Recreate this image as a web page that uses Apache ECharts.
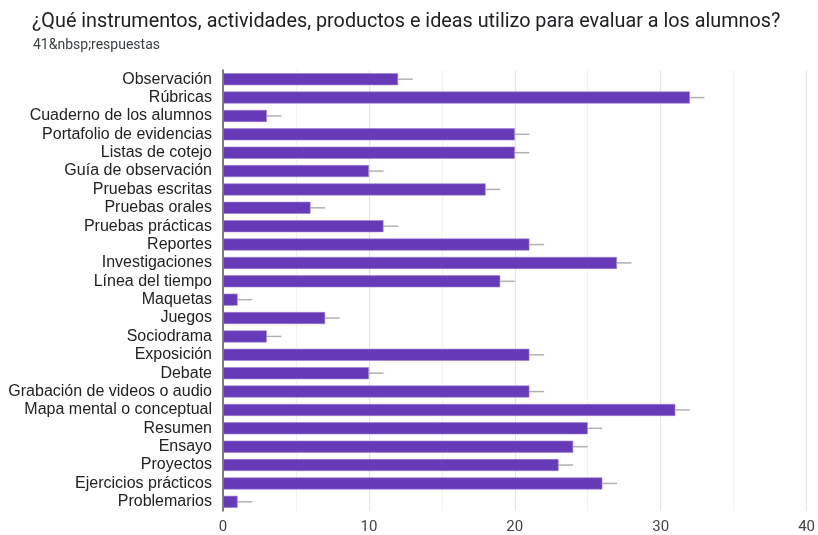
<!DOCTYPE html>
<html>
<head>
<meta charset="utf-8">
<script src="https://cdn.jsdelivr.net/npm/echarts@6/dist/echarts.min.js"></script>
<style>
  html, body { margin: 0; padding: 0; background: #ffffff; }
  #chart { width: 818px; height: 535px; }
</style>
</head>
<body>
<div id="chart"></div>
<script>
// Survey answers: how many teachers use each evaluation instrument
const categories = [
  'Observación', 'Rúbricas', 'Cuaderno de los alumnos', 'Portafolio de evidencias',
  'Listas de cotejo', 'Guía de observación', 'Pruebas escritas', 'Pruebas orales',
  'Pruebas prácticas', 'Reportes', 'Investigaciones', 'Línea del tiempo',
  'Maquetas', 'Juegos', 'Sociodrama', 'Exposición', 'Debate',
  'Grabación de videos o audio', 'Mapa mental o conceptual', 'Resumen',
  'Ensayo', 'Proyectos', 'Ejercicios prácticos', 'Problemarios'
];
const counts = [12, 32, 3, 20, 20, 10, 18, 6, 11, 21, 27, 19, 1, 7, 3, 21, 10, 21, 31, 25, 24, 23, 26, 1];
const xTicks = [0, 10, 20, 30, 40];
const whiskerLength = 1;

const chart = echarts.init(document.getElementById('chart'), null, { renderer: 'canvas' });

chart.setOption({
  backgroundColor: '#ffffff',
  animation: false,
  title: [
    {
      text: '¿Qué instrumentos, actividades, productos e ideas utilizo para evaluar a los alumnos?',
      left: 27, top: 7,
      textStyle: { fontFamily: 'Roboto', fontSize: 19.8, fontWeight: 'normal', color: '#202124' }
    },
    {
      text: '41&nbsp;respuestas',
      left: 28, top: 33,
      textStyle: { fontFamily: 'Roboto', fontSize: 14, fontWeight: 'normal', color: '#3c4043' }
    }
  ],
  grid: { left: 223, right: 10, top: 70, bottom: 21, containLabel: false },
  xAxis: {
    type: 'value',
    min: xTicks[0],
    max: xTicks[xTicks.length - 1],
    interval: xTicks[1] - xTicks[0],
    axisLine: { show: false },
    axisTick: { show: false },
    axisLabel: { fontFamily: 'Roboto', fontSize: 15, color: '#444', margin: 9 },
    splitLine: { show: true, lineStyle: { color: '#e4e4e4', width: 1 } },
    minorTick: { show: false, splitNumber: 2 },
    minorSplitLine: { show: true, lineStyle: { color: '#f2f2f2', width: 1 } }
  },
  yAxis: {
    type: 'category',
    data: categories,
    inverse: true,
    axisLine: { show: true, lineStyle: { color: '#555', width: 1.5 } },
    axisTick: { show: false },
    axisLabel: {
      interval: 0,
      fontFamily: '"Liberation Sans", Arial, sans-serif',
      fontSize: 16,
      color: '#222',
      margin: 11
    },
    splitLine: { show: false }
  },
  series: [
    {
      type: 'bar',
      data: counts,
      barWidth: 12,
      itemStyle: { color: '#673ab7', borderColor: '#9c80d4', borderWidth: 0.6 },
      z: 3
    },
    {
      type: 'custom',
      z: 2,
      data: counts.map((v, i) => [v, i]),
      renderItem: function (params, api) {
        const start = api.coord([api.value(0), api.value(1)]);
        const end = api.coord([api.value(0) + whiskerLength, api.value(1)]);
        return {
          type: 'line',
          shape: { x1: start[0], y1: start[1], x2: end[0], y2: end[1] },
          style: { stroke: '#b0b0b0', lineWidth: 1.5 }
        };
      }
    }
  ]
});
</script>
</body>
</html>
